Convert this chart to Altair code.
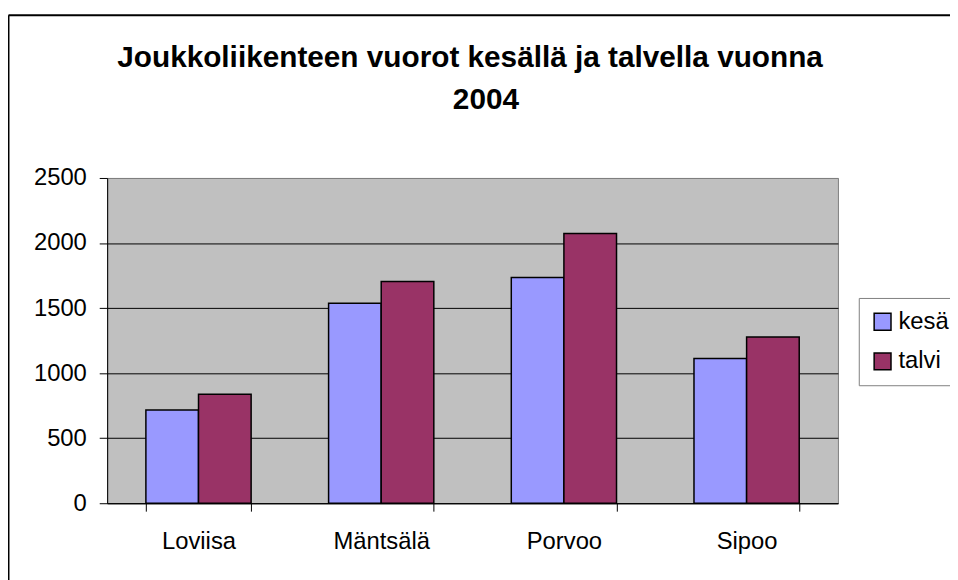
import altair as alt
import pandas as pd

categories = ["Loviisa", "Mäntsälä", "Porvoo", "Sipoo"]
series = ["kesä", "talvi"]
kesa = [716, 1537, 1735, 1113]
talvi = [838, 1705, 2073, 1278]
y_ticks = [0, 500, 1000, 1500, 2000, 2500]
colors = ["#9999FF", "#993366"]
title_lines = ["Joukkoliikenteen vuorot kesällä ja talvella vuonna", "2004"]

rows = []
for c, k, t in zip(categories, kesa, talvi):
    rows.append({"kunta": c, "kausi": series[0], "vuorot": k})
    rows.append({"kunta": c, "kausi": series[1], "vuorot": t})
df = pd.DataFrame(rows)

W, H = 737, 328
FONT = "Liberation Sans"

bars = alt.Chart(df).mark_bar(stroke="black", strokeWidth=1.5).encode(
    x=alt.X(
        "kunta:N", sort=categories, title=None,
        scale=alt.Scale(paddingInner=0.424, paddingOuter=0.212),
        axis=alt.Axis(labelAngle=0, labelFontSize=24, labelFont=FONT, labelColor="black",
                      tickBand="extent", tickSize=8, tickColor="black", tickWidth=1,
                      domainColor="black", domainWidth=1, labelPadding=19, grid=False),
    ),
    xOffset=alt.XOffset("kausi:N", sort=series),
    y=alt.Y(
        "vuorot:Q", title=None,
        scale=alt.Scale(domain=[0, 2500], nice=False),
        axis=alt.Axis(values=y_ticks, format="d", labelFontSize=24, labelFont=FONT,
                      labelColor="black", tickSize=8, tickColor="black", tickWidth=1,
                      domainColor="black", domainWidth=1, labelPadding=13, grid=True,
                      gridColor={"condition": {"test": "datum.value === 2500", "value": "#808080"},
                                 "value": "black"},
                      gridWidth=1, gridOpacity=1),
    ),
    color=alt.Color(
        "kausi:N", sort=series,
        scale=alt.Scale(domain=series, range=colors),
        legend=alt.Legend(title=None, orient="none", legendX=758, legendY=121,
                          strokeColor="#808080", padding=12,
                          symbolType="square", symbolSize=289, symbolStrokeColor="black",
                          symbolStrokeWidth=1.5, symbolOpacity=1,
                          labelFontSize=24, labelFont=FONT, labelColor="black",
                          rowPadding=16, labelOffset=4, fillColor="white"),
    ),
)

one = alt.Data(values=[{"f": 1}])
left_line = alt.Chart(one).mark_rule(color="black", strokeWidth=2).encode(
    x=alt.value(-99.5), y=alt.value(-164), y2=alt.value(430)
)
top_line = alt.Chart(one).mark_rule(color="black", strokeWidth=2).encode(
    x=alt.value(-99.5), x2=alt.value(870), y=alt.value(-164)
)
title_1 = alt.Chart(one).mark_text(
    font=FONT, fontSize=30, fontWeight="bold", color="black", align="center", baseline="alphabetic"
).encode(x=alt.value(366), y=alt.value(-112), text=alt.value(title_lines[0]))
title_2 = alt.Chart(one).mark_text(
    font=FONT, fontSize=30, fontWeight="bold", color="black", align="center", baseline="alphabetic"
).encode(x=alt.value(382), y=alt.value(-70), text=alt.value(title_lines[1]))

chart = alt.layer(bars, left_line, top_line, title_1, title_2).properties(
    width=W, height=H,
    autosize=alt.AutoSizeParams(type="none"),
    padding={"left": 100, "top": 169, "right": 113, "bottom": 75},
    background="white",
).configure_view(stroke="#808080", fill="#C0C0C0", strokeWidth=1)

chart.save("out.html", embed_options={"renderer": "svg", "actions": False})
